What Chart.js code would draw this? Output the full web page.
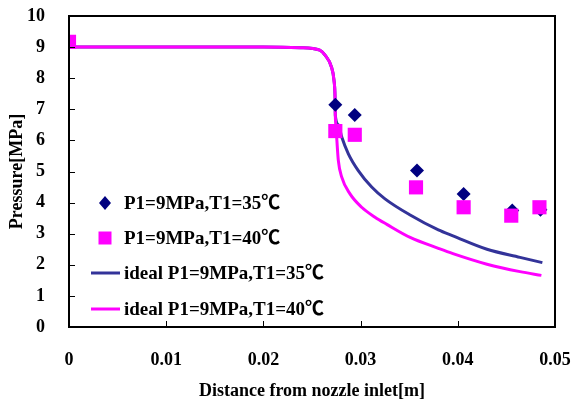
<!DOCTYPE html>
<html>
<head>
<meta charset="utf-8">
<script src="https://cdn.jsdelivr.net/npm/chart.js@4/dist/chart.umd.min.js"></script>
<style>
html,body{margin:0;padding:0;background:#fff;}
canvas{display:block;}
#err{position:absolute;left:80px;top:20px;font:12px sans-serif;color:red;}
</style>
</head>
<body>
<canvas id="c" width="572" height="399"></canvas>
<div id="err"></div>
<script>
const seriesLabels = ["P1=9MPa,T1=35℃", "P1=9MPa,T1=40℃", "ideal P1=9MPa,T1=35℃", "ideal P1=9MPa,T1=40℃"];
const xTicks = [0, 0.01, 0.02, 0.03, 0.04, 0.05];
const yTicks = [0, 1, 2, 3, 4, 5, 6, 7, 8, 9, 10];

const exp35x = [0, 0.0274, 0.0294, 0.0358, 0.0406, 0.0456, 0.0485];
const exp35y = [9.15, 7.15, 6.82, 5.03, 4.28, 3.75, 3.77];
const exp40x = [0, 0.0274, 0.0294, 0.0357, 0.0406, 0.0455, 0.0484];
const exp40y = [9.17, 6.30, 6.18, 4.49, 3.85, 3.58, 3.85];

const ideal35x = [0, 0.01, 0.02, 0.0238, 0.0258, 0.02634, 0.0270, 0.02726, 0.02737, 0.0274, 0.02771, 0.02806, 0.02874, 0.02976, 0.03114, 0.03251, 0.0351, 0.0380, 0.0395, 0.0430, 0.0464, 0.0487];
const ideal35y = [9.0, 9.0, 9.0, 8.98, 8.9, 8.74, 8.36, 7.94, 7.4, 6.8, 6.5, 6.11, 5.57, 5.03, 4.5, 4.12, 3.6, 3.12, 2.93, 2.5, 2.24, 2.07];
const ideal40x = [0, 0.01, 0.02, 0.0238, 0.0258, 0.02634, 0.0270, 0.02726, 0.02737, 0.0274, 0.02748, 0.02756, 0.02771, 0.02806, 0.02891, 0.03011, 0.03148, 0.0327, 0.0351, 0.0380, 0.0395, 0.0430, 0.0464, 0.0486];
const ideal40y = [9.0, 9.0, 9.0, 8.98, 8.9, 8.74, 8.36, 7.94, 7.4, 6.8, 6.4, 6.0, 5.35, 4.82, 4.28, 3.85, 3.53, 3.3, 2.88, 2.53, 2.36, 2.02, 1.78, 1.66];

const toPts = (xs, ys) => xs.map((x, i) => ({x: x, y: ys[i]}));

const FONT = '"Liberation Serif", "Times New Roman", "Noto Sans CJK SC", serif';

function report(e) { document.getElementById('err').textContent += ' ' + e; }

const overlay = {
  id: 'overlay',
  afterDraw(chart) {
    const ctx = chart.ctx;
    try {
      const a = chart.chartArea;
      const xs = chart.scales.x, ys = chart.scales.y;
      const L = Math.round(a.left), R = Math.round(a.right), T = Math.round(a.top), B = Math.round(a.bottom);
      ctx.save();
      ctx.fillStyle = '#000000';
      ctx.fillRect(L - 1, T - 1, R - L + 2, 2);
      ctx.fillRect(L - 1, B - 1, R - L + 2, 2);
      ctx.fillRect(L - 1, T - 1, 2, B - T + 2);
      ctx.fillRect(R - 1, T - 1, 2, B - T + 2);
      xTicks.forEach(v => {
        const px = Math.round(xs.getPixelForValue(v));
        ctx.fillRect(px, B - 6, 1, 6);
      });
      yTicks.forEach(v => {
        const py = Math.round(ys.getPixelForValue(v));
        ctx.fillRect(L, py, 6, 1);
      });
      ctx.restore();
    } catch (e) { report(e); }
    try {
      const rows = [203, 238, 273, 309];
      ctx.save();
      ctx.font = 'bold 19px ' + FONT;
      ctx.textBaseline = 'middle';
      chart.data.datasets.forEach((ds, i) => {
        const y = rows[i];
        if (ds.showLine) {
          ctx.strokeStyle = ds.borderColor;
          ctx.lineWidth = 3;
          ctx.beginPath();
          ctx.moveTo(91, y);
          ctx.lineTo(120, y);
          ctx.stroke();
        } else {
          ctx.fillStyle = ds.pointBackgroundColor;
          ctx.beginPath();
          if (ds.pointStyle === 'rect') {
            ctx.rect(98.5, y - 6.5, 13, 13);
          } else {
            ctx.moveTo(105, y - 7); ctx.lineTo(111, y); ctx.lineTo(105, y + 7); ctx.lineTo(99, y);
            ctx.closePath();
          }
          ctx.fill();
        }
        ctx.fillStyle = '#000';
        ctx.fillText(ds.label, 124, y + 1);
      });
      ctx.restore();
    } catch (e) { report(e); }
  }
};

try {
new Chart(document.getElementById('c'), {
  type: 'scatter',
  data: {
    datasets: [
      {label: seriesLabels[0], data: toPts(exp35x, exp35y), pointStyle: 'rectRot', pointRadius: 7, pointBackgroundColor: '#000080', pointBorderWidth: 0, borderColor: '#000080', backgroundColor: '#000080', showLine: false, order: 1},
      {label: seriesLabels[1], data: toPts(exp40x, exp40y), pointStyle: 'rect', pointRadius: 10, pointBackgroundColor: '#FF00FF', pointBorderWidth: 0, borderColor: '#FF00FF', backgroundColor: '#FF00FF', showLine: false, order: 0},
      {label: seriesLabels[2], data: toPts(ideal35x, ideal35y), showLine: true, pointRadius: 0, borderColor: '#333399', borderWidth: 3, cubicInterpolationMode: 'monotone', fill: false, order: 3},
      {label: seriesLabels[3], data: toPts(ideal40x, ideal40y), showLine: true, pointRadius: 0, borderColor: '#FF00FF', borderWidth: 3, cubicInterpolationMode: 'monotone', fill: false, order: 2}
    ]
  },
  options: {
    responsive: false,
    animation: false,
    devicePixelRatio: 1,
    layout: {padding: {top: 16, right: 17, left: 0, bottom: 0}},
    plugins: {legend: {display: false}, tooltip: {enabled: false}},
    scales: {
      x: {
        type: 'linear', min: 0, max: 0.05,
        afterBuildTicks: s => { s.ticks = xTicks.map(v => ({value: v})); },
        afterFit: s => { s.height = 72; s.paddingLeft = 0; s.paddingRight = 0; s.paddingTop = 0; s.paddingBottom = 0; },
        grid: {display: false},
        border: {display: true, color: '#000', width: 2},
        ticks: {color: '#000', font: {family: FONT, size: 18, weight: 'bold'}, padding: 15, maxRotation: 0, callback: v => String(v)},
        title: {display: true, text: 'Distance from nozzle inlet[m]', color: '#000', font: {family: FONT, size: 18, weight: 'bold', lineHeight: 0.8}, padding: {top: 0, bottom: 0}}
      },
      y: {
        type: 'linear', min: 0, max: 10,
        afterBuildTicks: s => { s.ticks = yTicks.map(v => ({value: v})); },
        afterFit: s => { s.width = 69; s.paddingLeft = 0; s.paddingRight = 0; s.paddingTop = 0; s.paddingBottom = 0; },
        grid: {display: false},
        border: {display: true, color: '#000', width: 2},
        ticks: {color: '#000', font: {family: FONT, size: 18, weight: 'bold'}, padding: 16, callback: v => String(v)},
        title: {display: true, text: 'Pressure[MPa]', color: '#000', font: {family: FONT, size: 18, weight: 'bold', lineHeight: 1.2}, padding: {top: 7, bottom: 0}}
      }
    }
  },
  plugins: [overlay]
});
} catch (e) { report(e); }
</script>
</body>
</html>
